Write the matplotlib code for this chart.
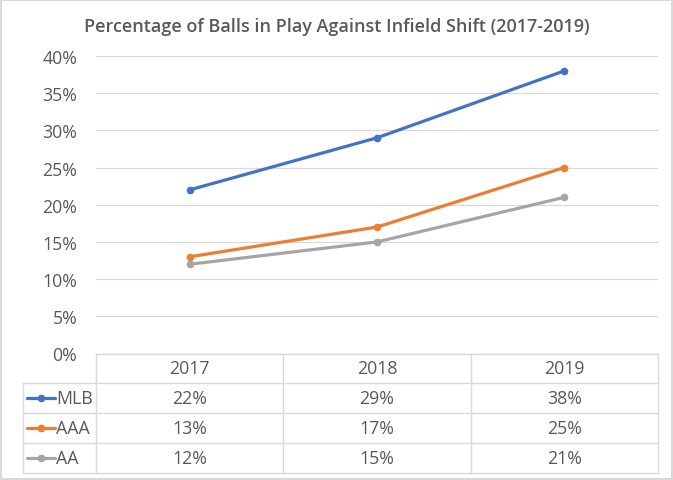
import matplotlib.pyplot as plt

years = ["2017", "2018", "2019"]
series_names = ["MLB", "AAA", "AA"]
mlb = [22, 29, 38]
aaa = [13, 17, 25]
aa = [12, 15, 21]
colors = ["#4472C4", "#ED7D31", "#A5A5A5"]
yticks = [0, 5, 10, 15, 20, 25, 30, 35, 40]

plt.rcParams['font.family'] = ['Open Sans', 'DejaVu Sans']
txt = "#595959"
grid = "#D9D9D9"
fs = 12.8

W, H = 673, 481
fig = plt.figure(figsize=(W / 100, H / 100), dpi=100)
fig.patch.set_edgecolor(grid)
fig.patch.set_linewidth(1.5)

# plot area in pixels
left, right, top, bottom = 96, 658, 57, 354.5
ax = fig.add_axes([left / W, 1 - bottom / H, (right - left) / W, (bottom - top) / H])
ax.set_xlim(-0.5, 2.5)
ax.set_ylim(0, 40)
for s in ax.spines.values():
    s.set_visible(False)
ax.set_yticks(yticks)
ax.set_yticklabels([f"{v}%" for v in yticks], color=txt, fontsize=fs)
ax.tick_params(axis='y', length=0, pad=13.5)
ax.set_xticks([])
ax.grid(axis='y', color=grid, linewidth=0.9)
ax.set_axisbelow(True)

x = range(len(years))
for vals, c in zip([mlb, aaa, aa], colors):
    ax.plot(x, vals, color=c, linewidth=2.3, marker='o', markersize=4.5, solid_capstyle='round')

fig.text(337 / W, 1 - 27 / H, "Percentage of Balls in Play Against Infield Shift (2017-2019)",
         ha='center', va='center', fontsize=13, weight='semibold', color=txt)

# data table
t_left, t_top, t_bottom = 23, 354.5, 474
colw = (right - left) / 3
label_w = (left - t_left) / colw
tx = fig.add_axes([t_left / W, 1 - t_bottom / H, (right - t_left) / W, (t_bottom - t_top) / H])
tx.set_xlim(-0.5 - label_w, 2.5)
tx.set_ylim(4, 0)
tx.axis('off')
lk = dict(color=grid, linewidth=1.0, clip_on=False)
tx.plot([-0.5, 2.5], [0, 0], **lk)
for r in range(1, 5):
    tx.plot([-0.5 - label_w, 2.5], [r, r], **lk)
tx.plot([-0.5 - label_w, -0.5 - label_w], [1, 4], **lk)
for cpos in [-0.5, 0.5, 1.5, 2.5]:
    tx.plot([cpos, cpos], [0, 4], **lk)
for i, yr in enumerate(years):
    tx.text(i, 0.5, yr, ha='center', va='center', fontsize=fs, color=txt)
for r, (name, vals, c) in enumerate(zip(series_names, [mlb, aaa, aa], colors)):
    yy = r + 1.5
    x0 = -0.5 - label_w + 4 / colw
    x1 = -0.5 - label_w + 32 / colw
    tx.plot([x0, x1], [yy, yy], color=c, linewidth=2.3, solid_capstyle='round')
    tx.plot([(x0 + x1) / 2], [yy], 'o', color=c, markersize=4.5)
    tx.text(x1 + 1 / colw, yy, name, ha='left', va='center', fontsize=fs, color=txt)
    for i, v in enumerate(vals):
        tx.text(i, yy, f"{v}%", ha='center', va='center', fontsize=fs, color=txt)

fig.savefig("out.png", dpi=100, edgecolor=fig.get_edgecolor())
